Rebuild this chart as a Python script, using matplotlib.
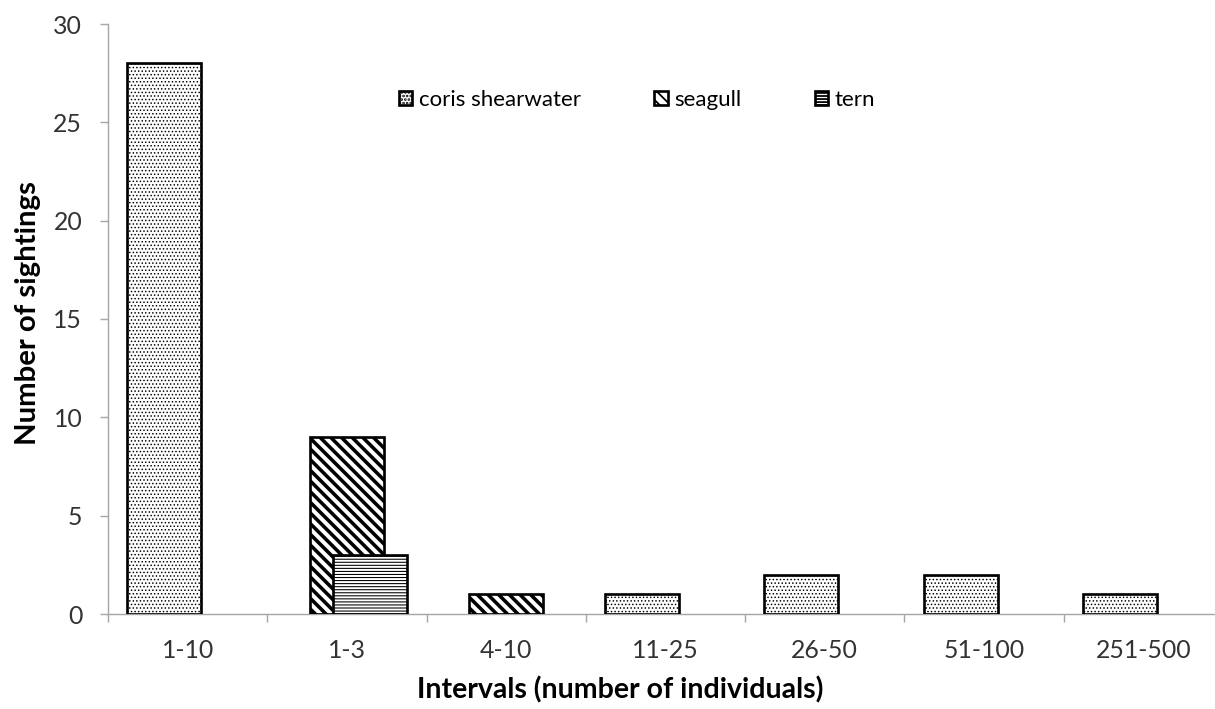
import matplotlib
matplotlib.use("Agg")
import matplotlib.pyplot as plt
import numpy as np

# Intervals of group size and sightings per species
intervalos = ["1-10", "1-3", "4-10", "11-25", "26-50", "51-100", "251-500"]
especies = ["coris shearwater", "seagull", "tern"]
coris = [28, 0, 0, 1, 2, 2, 1]
gaviota = [0, 9, 1, 0, 0, 0, 0]
charran = [0, 3, 0, 0, 0, 0, 0]

plt.rcParams['font.family'] = ['Lato', 'DejaVu Sans']
gris = "#a6a6a6"
texto = "#333333"

DPI = 128
fig = plt.figure(figsize=(1215 / DPI, 709 / DPI), dpi=DPI)
ax = fig.add_axes([108 / 1215, 95 / 709, (1223 - 108) / 1215, 590 / 709])

x = np.arange(len(intervalos))
ancho = 0.465
desp = 0.147

estilos = [
    (coris, -desp, "......", 0.5),
    (gaviota, 0.0, "\\\\\\\\", 2.0),
    (charran, desp, "-------", 0.6),
]

for (valores, d, trama, grosor), nombre in zip(estilos, especies):
    with plt.rc_context({'hatch.linewidth': grosor}):
        barras = ax.bar([xi + d for xi, v in zip(x, valores) if v > 0],
                        [v for v in valores if v > 0],
                        width=ancho, color="white", edgecolor="black",
                        linewidth=1.5, hatch=trama, label=nombre, zorder=3)
        for b in barras:
            if hasattr(b, "set_hatch_linewidth"):
                b.set_hatch_linewidth(grosor)

ax.set_xlim(-0.5, len(intervalos) - 0.5)
ax.set_ylim(0, 30)
ax.set_yticks(range(0, 31, 5))
ax.set_xticks(x)
ax.set_xticklabels(intervalos)
ax.set_xticks(np.arange(-0.5, len(intervalos)), minor=True)

for s in ["top", "right"]:
    ax.spines[s].set_visible(False)
for s in ["left", "bottom"]:
    ax.spines[s].set_color(gris)
    ax.spines[s].set_linewidth(0.8)

ax.tick_params(axis="y", direction="out", length=4.5, width=0.8, color=gris,
               labelsize=14, labelcolor=texto, pad=10)
ax.tick_params(axis="x", which="major", length=0, labelsize=14,
               labelcolor=texto, pad=14)
ax.tick_params(axis="x", which="minor", direction="out", length=4.5,
               width=0.8, color=gris)

fig.text(620 / 1215, 1 - 690 / 709, "Intervals (number of individuals)",
         ha="center", va="center", fontsize=16, fontweight="bold")
fig.text(28 / 1215, 1 - 313 / 709, "Number of sightings", rotation=90,
         ha="center", va="center", fontsize=16.5, fontweight="bold")

leg = ax.legend(loc="center left", bbox_to_anchor=(399 / 1215, 1 - 100 / 709),
                bbox_transform=fig.transFigure, ncol=3, frameon=False,
                fontsize=12.5, handlelength=0.6, handleheight=0.6,
                handletextpad=0.3, columnspacing=3.3, borderpad=0,
                borderaxespad=0)
for t in leg.get_texts():
    t.set_color("black")

fig.savefig("out.png", dpi=DPI)
